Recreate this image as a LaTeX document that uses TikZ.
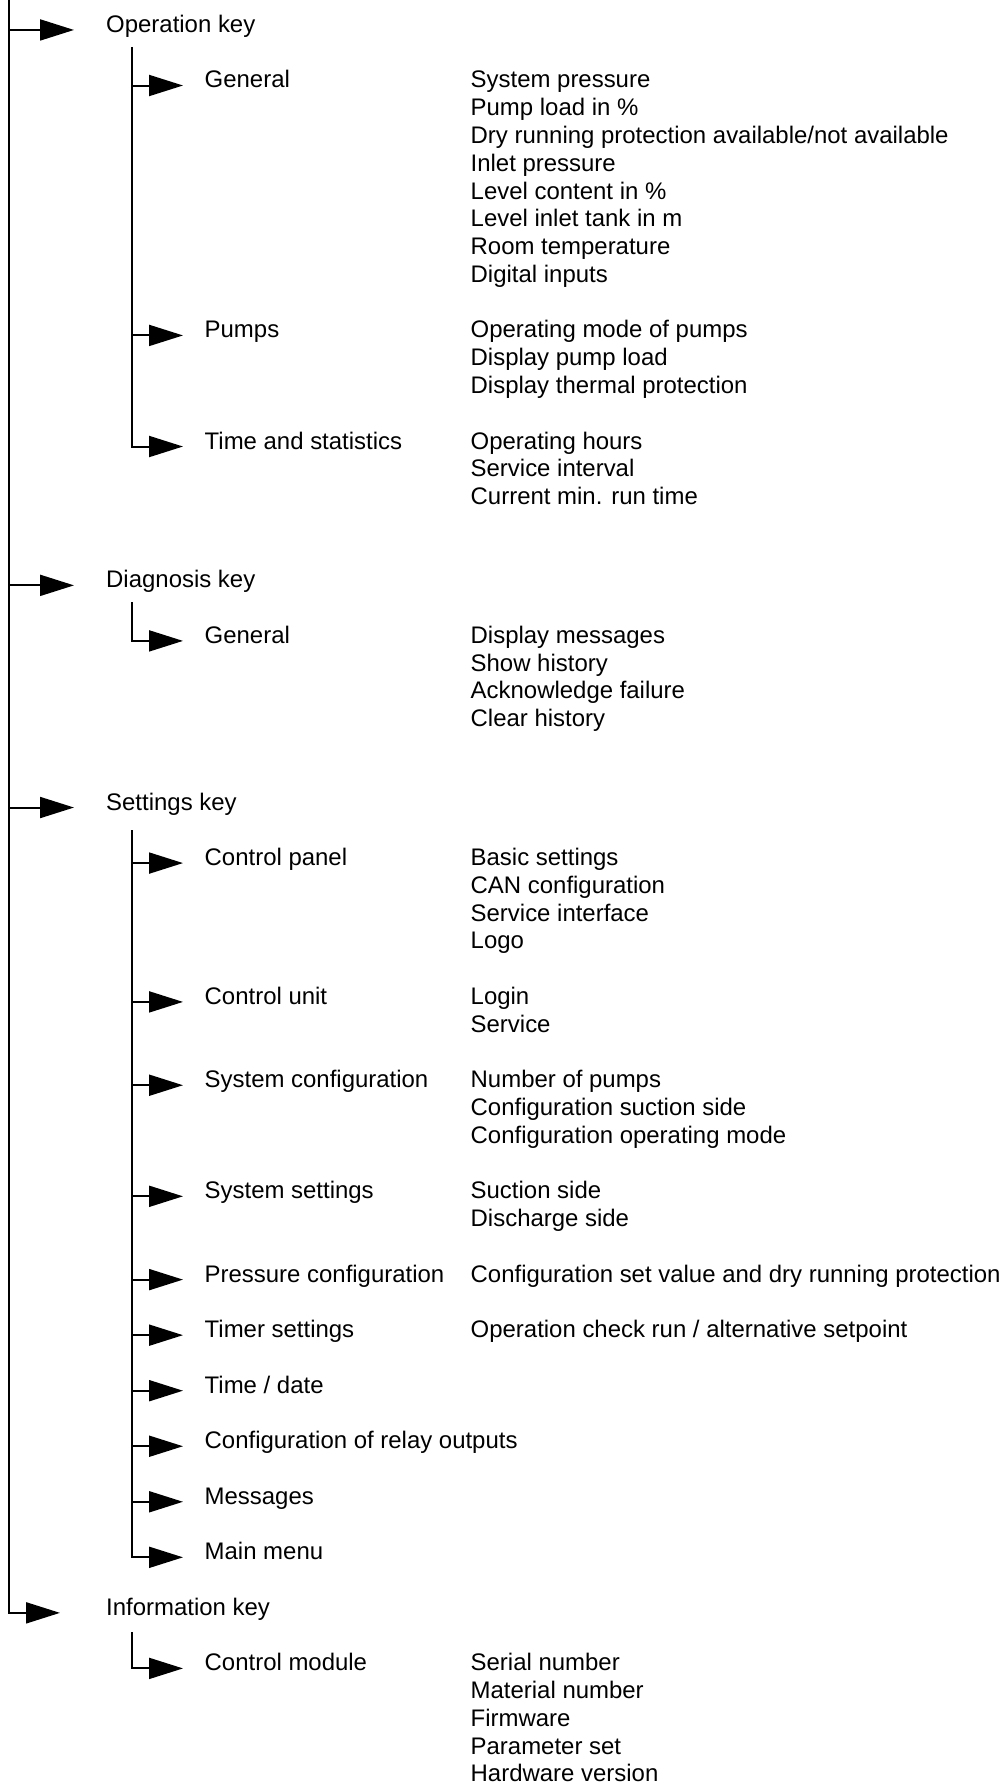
\documentclass[tikz,border=0pt]{standalone}
\usepackage{fontspec}
\setmainfont{Liberation Sans}
\usetikzlibrary{arrows.meta}
\newcommand{\itemcol}[3]{%
  \foreach \txt [count=\k from 0] in {#3}{%
    \node[lbl] (#1-\k) at (470.5,{88+27.77*(#2+\k)}) {\txt};}}
\begin{document}
\begin{tikzpicture}[x=1pt,y=-1pt,
  lbl/.style={anchor=base west, inner sep=0pt, font=\fontsize{23.95}{28}\selectfont},
  wire/.style={line width=2pt},
  arr/.style={wire, -{Triangle[length=34pt,width=21pt]}},
]
\useasboundingbox (0,0) rectangle (1003,1785);
% level 1 labels
\node[lbl] (op)   at (106,{88+27.77*(-2)}) {Operation key};
\node[lbl] (diag) at (106,{88+27.77*18}) {Diagnosis key};
\node[lbl] (set)  at (106,{88+27.77*26}) {Settings key};
\node[lbl] (info) at (106,{88+27.77*55}) {Information key};
% level 2 labels
\foreach \nm/\i/\txt in {opgen/0/General, pumps/9/Pumps, stat/13/Time and statistics,
  dggen/20/General, cpanel/28/Control panel, cunit/33/Control unit,
  sysconf/36/System configuration, sysset/40/System settings,
  press/43/Pressure configuration, timer/45/Timer settings, tdate/47/{Time / date},
  relay/49/Configuration of relay outputs, msgs/51/Messages, mmenu/53/Main menu,
  cmod/57/Control module}{
  \node[lbl] (\nm) at (204.5,{88+27.77*\i}) {\txt};}
% level 3 lists
\itemcol{genl}{0}{System pressure, Pump load in \%, Dry running protection available/not available, Inlet pressure, Level content in \%, Level inlet tank in m, Room temperature, Digital inputs}
\itemcol{pmpl}{9}{Operating mode of pumps, Display pump load, Display thermal protection}
\itemcol{statl}{13}{Operating hours, Service interval, Current min. run time}
\itemcol{dgl}{20}{Display messages, Show history, Acknowledge failure, Clear history}
\itemcol{cpl}{28}{Basic settings, CAN configuration, Service interface, Logo}
\itemcol{cul}{33}{Login, Service}
\itemcol{scl}{36}{Number of pumps, Configuration suction side, Configuration operating mode}
\itemcol{ssl}{40}{Suction side, Discharge side}
\itemcol{prl}{43}{Configuration set value and dry running protection}
\itemcol{tml}{45}{Operation check run / alternative setpoint}
\itemcol{cml}{57}{Serial number, Material number, Firmware, Parameter set, Hardware version}
% spines
\coordinate (s0) at (8.5,0);
\coordinate (s-op) at (132,47);
\coordinate (s-dg) at (132,602);
\coordinate (s-set) at (132,830);
\coordinate (s-info) at (132,1632);
% level 1 arrows
\foreach \nm in {op,diag,set}{
  \coordinate (t-\nm) at ([xshift=-32pt,yshift=2.5pt]\nm.base west);
  \draw[arr] (s0 |- t-\nm) -- (t-\nm);}
\coordinate (t-info) at ([xshift=-46pt,yshift=2.5pt]info.base west);
\draw[arr] (s0) |- (t-info);
% level 2 arrows
\foreach \nm/\sp in {opgen/s-op, pumps/s-op, cpanel/s-set, cunit/s-set,
  sysconf/s-set, sysset/s-set, press/s-set, timer/s-set, tdate/s-set, relay/s-set, msgs/s-set}{
  \coordinate (t-\nm) at ([xshift=-21.5pt,yshift=2.5pt]\nm.base west);
  \draw[arr] (\sp |- t-\nm) -- (t-\nm);}
\foreach \nm/\sp in {stat/s-op, dggen/s-dg, mmenu/s-set, cmod/s-info}{
  \coordinate (t-\nm) at ([xshift=-21.5pt,yshift=2.5pt]\nm.base west);
  \draw[arr] (\sp) |- (t-\nm);}
\end{tikzpicture}
\end{document}
